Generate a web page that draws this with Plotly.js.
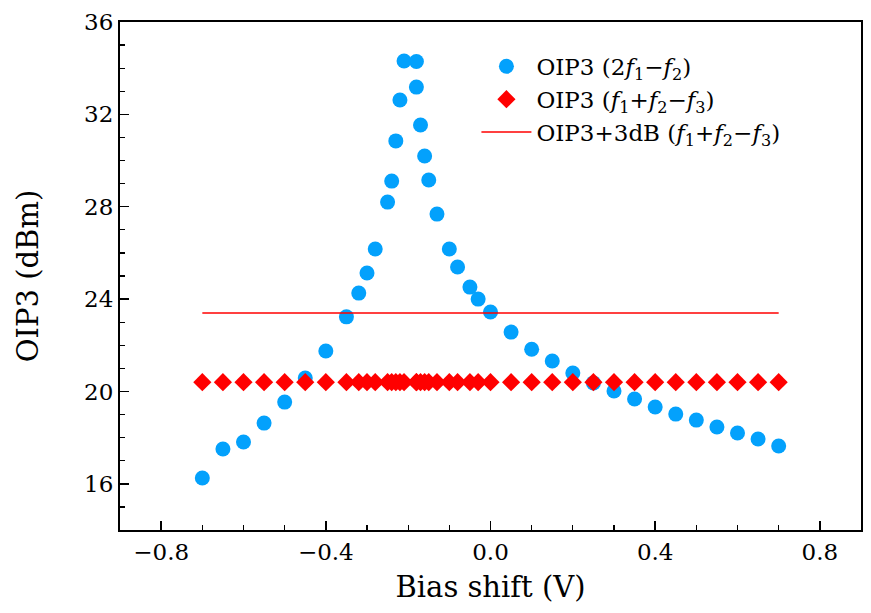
<!DOCTYPE html>
<html>
<head>
<meta charset="utf-8">
<script src="https://cdn.plot.ly/plotly-3.0.1.min.js"></script>
<style>html,body{margin:0;padding:0;background:#fff;}#chart{width:871px;height:613px;}</style>
</head>
<body>
<div id="chart"></div>
<script>
const bias = [-0.70,-0.65,-0.60,-0.55,-0.50,-0.45,-0.40,-0.35,-0.32,-0.30,-0.28,-0.25,-0.24,-0.23,-0.22,-0.21,-0.18,-0.18,-0.17,-0.16,-0.15,-0.13,-0.10,-0.08,-0.05,-0.03,0.00,0.05,0.10,0.15,0.20,0.25,0.30,0.35,0.40,0.45,0.50,0.55,0.60,0.65,0.70];
const oip3_2f1_f2 = [16.25,17.51,17.81,18.63,19.54,20.58,21.75,23.23,24.26,25.13,26.17,28.20,29.11,30.85,32.62,34.31,34.29,33.18,31.54,30.20,29.16,27.68,26.17,25.39,24.52,24.00,23.44,22.57,21.83,21.32,20.80,20.37,20.02,19.67,19.33,19.02,18.76,18.46,18.20,17.94,17.64];
const oip3_f1f2_f3 = [20.4,20.4,20.4,20.4,20.4,20.4,20.4,20.4,20.4,20.4,20.4,20.4,20.4,20.4,20.4,20.4,20.4,20.4,20.4,20.4,20.4,20.4,20.4,20.4,20.4,20.4,20.4,20.4,20.4,20.4,20.4,20.4,20.4,20.4,20.4,20.4,20.4,20.4,20.4,20.4,20.4];
const line3dB_x = [-0.70, 0.70];
const line3dB_y = [23.4, 23.4];
const xTickVals = [-0.8,-0.4,0.0,0.4,0.8];
const xTickText = ['\u22120.8','\u22120.4','0.0','0.4','0.8'];
const yTickVals = [16,20,24,28,32,36];

const FONT = 'DejaVu Serif';

const traces = [
  {x: bias, y: oip3_2f1_f2, type: 'scatter', mode: 'markers',
   name: 'OIP3 (2<i>f</i><sub>1</sub>\u2212<i>f</i><sub>2</sub>)',
   marker: {symbol: 'circle', size: 15, color: 'rgb(3,161,252)'}},
  {x: bias, y: oip3_f1f2_f3, type: 'scatter', mode: 'markers',
   name: 'OIP3 (<i>f</i><sub>1</sub>+<i>f</i><sub>2</sub>\u2212<i>f</i><sub>3</sub>)',
   marker: {symbol: 'diamond', size: 14, color: 'rgb(255,0,0)'}},
  {x: line3dB_x, y: line3dB_y, type: 'scatter', mode: 'lines',
   name: 'OIP3+3dB (<i>f</i><sub>1</sub>+<i>f</i><sub>2</sub>\u2212<i>f</i><sub>3</sub>)',
   line: {color: 'rgb(255,0,0)', width: 1.5}}
];

const layout = {
  width: 871, height: 613,
  margin: {l: 120, r: 10, t: 22, b: 83},
  paper_bgcolor: '#fff', plot_bgcolor: '#fff',
  font: {family: FONT, size: 22, color: '#000'},
  showlegend: true,
  legend: {x: 0.481, y: 0.955, xanchor: 'left', yanchor: 'top',
    bgcolor: 'rgba(0,0,0,0)', font: {family: FONT, size: 23, color: '#000'},
    itemwidth: 50, tracegroupgap: 0},
  xaxis: {range: [-0.9, 0.9], showgrid: false, zeroline: false,
    showline: true, linecolor: '#000', linewidth: 2, mirror: true,
    ticks: 'inside', ticklen: 9, tickwidth: 1.5, tickcolor: '#000',
    tickvals: xTickVals, ticktext: xTickText,
    tickfont: {family: FONT, size: 23, color: '#000'},
    minor: {dtick: 0.1, ticks: 'inside', ticklen: 5, tickwidth: 1.2, tickcolor: '#000', showgrid: false},
    title: {text: 'Bias shift (V)', font: {family: FONT, size: 29, color: '#000'}, standoff: 13}},
  yaxis: {range: [14, 36], showgrid: false, zeroline: false,
    showline: true, linecolor: '#000', linewidth: 2, mirror: true,
    ticks: 'inside', ticklen: 9, tickwidth: 1.5, tickcolor: '#000',
    tickvals: yTickVals,
    tickfont: {family: FONT, size: 23, color: '#000'},
    minor: {dtick: 1, ticks: 'inside', ticklen: 5, tickwidth: 1.2, tickcolor: '#000', showgrid: false},
    title: {text: 'OIP3 (dBm)', font: {family: FONT, size: 29, color: '#000'}, standoff: 37}}
};

Plotly.newPlot('chart', traces, layout, {displayModeBar: false, staticPlot: true});
</script>
</body>
</html>
